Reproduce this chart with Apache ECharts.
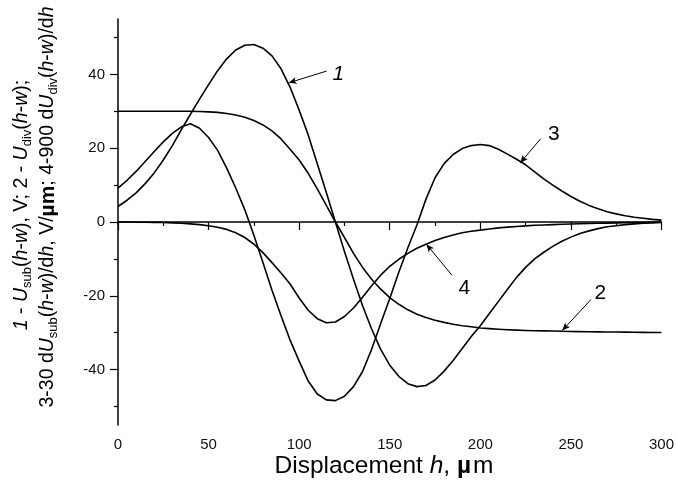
<!DOCTYPE html>
<html>
<head>
<meta charset="utf-8">
<script src="https://cdn.jsdelivr.net/npm/echarts@6/dist/echarts.min.js"></script>
<style>
html, body { margin: 0; padding: 0; background: #fff; }
#Result { width: 677px; height: 494px; }
</style>
</head>
<body>
<div id="Result"></div>
<script>
// displacement h, um (shared by all curves)
var hGrid = [0, 5, 10, 15, 20, 25, 30, 35, 40, 45, 50, 55, 60, 65, 70, 75, 80, 85, 90, 95,
    100, 105, 110, 115, 120, 125, 130, 135, 140, 145, 150, 155, 160, 165, 170, 175, 180, 185, 190, 195,
    200, 205, 210, 215, 220, 225, 230, 235, 240, 245, 250, 255, 260, 265, 270, 275, 280, 285, 290, 295, 300];
// curve 1 - Usub(h-w)
var uSub = [4.2, 5.9, 7.9, 10.4, 13.3, 16.8, 20.7, 25, 29.2, 33.3, 37.2, 41, 44.2, 46.6, 47.9, 48.1, 47.1, 45, 41.5, 36.5,
    30.3, 23.6, 15.8, 8, 0, -8, -15.5, -22.7, -29, -34.5, -38.8, -41.8, -43.8, -44.6, -44.3, -42.8, -40.4, -37.5, -34.3, -31,
    -28.1, -24.8, -21.5, -18.2, -15, -12.3, -10, -8.2, -6.6, -5.2, -4.1, -3.1, -2.4, -1.8, -1.3, -1, -0.7, -0.5, -0.35, -0.25, -0.15];
// curve 2 - Udiv(h-w)
var uDiv = [30, 30, 30, 30, 30, 30, 30, 30, 30, 29.95, 29.85, 29.7, 29.4, 29, 28.4, 27.5, 26.3, 24.7, 22.5, 19.7,
    16.8, 13.2, 9, 4.5, 0, -4.2, -8.5, -12.3, -15.5, -18.2, -20.5, -22.3, -23.8, -25, -25.9, -26.6, -27.2, -27.7, -28.1, -28.4,
    -28.7, -28.9, -29.05, -29.2, -29.3, -29.4, -29.45, -29.5, -29.55, -29.6, -29.65, -29.7, -29.72, -29.76, -29.8, -29.82, -29.85, -29.87, -29.9, -29.92, -29.95];
// curve 3 - 30 dUsub/dh
var dSub = [9.2, 11.3, 13.7, 16.4, 19.1, 21.7, 24, 25.8, 26.6, 25.4, 22.9, 19.4, 14.6, 9.2, 3.3, -3.6, -11, -18.5, -25.4, -32,
    -37.7, -43.1, -46.6, -48.2, -48.4, -47.2, -44.6, -40.5, -34.5, -27.5, -20.7, -13.6, -7, -0.8, 6.2, 12, 15.8, 18.3, 19.9, 20.7,
    21, 20.7, 19.7, 18.4, 17, 15.5, 13.6, 11.7, 10, 8.4, 6.9, 5.6, 4.5, 3.6, 2.8, 2.2, 1.7, 1.3, 1, 0.7, 0.5];
// curve 4 - 900 dUdiv/dh
var dDiv = [0, 0, -0.05, -0.05, -0.1, -0.15, -0.25, -0.35, -0.5, -0.7, -1, -1.4, -2, -2.9, -4.2, -6, -8.3, -11, -13.8, -16.8,
    -20.6, -23.9, -26.2, -27.3, -27.1, -25.6, -23.3, -20.4, -17.3, -14.4, -12, -10.1, -8.5, -7.1, -6, -5, -4.2, -3.5, -2.9, -2.5,
    -2.2, -1.9, -1.6, -1.4, -1.2, -1.05, -0.9, -0.8, -0.7, -0.62, -0.55, -0.47, -0.4, -0.35, -0.3, -0.25, -0.2, -0.16, -0.12, -0.08, -0.05];

var yMajor = [-40, -20, 0, 20, 40];
var yMinor = [-50, -30, -10, 10, 30, 50];

// curve numbers: text position, arrow start, arrow tip (data units)
var tagText = ['1', '2', '3', '4'];
var tagPos = [[121.6, 40.0], [266.2, -19.4], [240.6, 23.7], [191.2, -18.0]];
var tagFrom = [[115.2, 40.9], [261.1, -21.0], [233.2, 22.5], [184.3, -14.4]];
var tagTo = [[94.2, 37.7], [245.2, -29.4], [222.0, 16.0], [170.2, -6.0]];

function pairs(xs, ys) {
    var out = [];
    for (var i = 0; i < xs.length; i++) out.push([xs[i], ys[i]]);
    return out;
}

var FONT = '"Liberation Sans", Arial, sans-serif';
var dom = document.getElementById("Result");
var myChart = echarts.init(dom, null, { renderer: 'canvas' });

var arrows = [[{ yAxis: 0, symbol: 'none' }, { yAxis: 0, symbol: 'none' }]];
for (var k = 0; k < tagFrom.length; k++) {
    arrows.push([{ coord: tagFrom[k], symbol: 'none' }, { coord: tagTo[k], symbol: 'arrow', symbolSize: [5, 8] }]);
}

function curve(name, d) {
    return {
        name: name,
        type: 'line',
        data: d,
        smooth: false,
        showSymbol: false,
        lineStyle: { color: '#000', width: 1.6, join: 'round' },
        silent: true,
        animation: false
    };
}

var s1 = curve('1', pairs(hGrid, uSub));
s1.markLine = {
    silent: true,
    animation: false,
    label: { show: false },
    lineStyle: { color: '#000', width: 1, type: 'solid' },
    itemStyle: { color: '#000' },
    data: arrows
};

option = {
    backgroundColor: '#fff',
    animation: false,
    grid: { left: 118, right: 12, top: 19, bottom: 69 },
    xAxis: {
        type: 'value',
        min: 0,
        max: 300,
        interval: 50,
        axisLine: { lineStyle: { color: '#000', width: 1.5 } },
        axisTick: { length: 8, lineStyle: { color: '#000', width: 1.2 } },
        minorTick: { show: true, splitNumber: 2, length: 4, lineStyle: { color: '#000', width: 1.2 } },
        axisLabel: { color: '#111', fontSize: 15, fontFamily: FONT, margin: 12 },
        splitLine: { show: false }
    },
    yAxis: [{
        type: 'value',
        min: -55,
        max: 55,
        axisLine: { show: true, lineStyle: { color: '#000', width: 1.5 } },
        axisTick: { show: true, customValues: yMajor, length: 8, lineStyle: { color: '#000', width: 1.2 } },
        axisLabel: { customValues: yMajor, color: '#111', fontSize: 15, fontFamily: FONT, margin: 13 },
        splitLine: { show: false }
    }, {
        type: 'value',
        min: -55,
        max: 55,
        position: 'left',
        axisLine: { show: false },
        axisTick: { show: true, customValues: yMinor, length: 4, lineStyle: { color: '#000', width: 1.2 } },
        axisLabel: { show: false },
        splitLine: { show: false }
    }],
    series: [
        s1,
        curve('2', pairs(hGrid, uDiv)),
        curve('3', pairs(hGrid, dSub)),
        curve('4', pairs(hGrid, dDiv))
    ]
};
myChart.setOption(option, true);

// axis titles and curve numbers
var rich = {
    i: { fontStyle: 'italic', fontSize: 19.5, fontFamily: FONT, color: '#000' },
    s: { fontSize: 13, fontFamily: FONT, color: '#000', verticalAlign: 'bottom', padding: [11, 0, 0, 0] },
    m: { fontSize: 21, fontWeight: 'bold', fontFamily: FONT, color: '#000' }
};
var graphics = [{
    type: 'text',
    x: 22, y: 205, rotation: Math.PI / 2,
    style: {
        text: '{i|1} - {i|U}{s|sub}({i|h}-{i|w}), V; 2 - {i|U}{s|div}({i|h}-{i|w});',
        rich: rich, fontSize: 19.5, fontFamily: FONT, fill: '#000', align: 'center', verticalAlign: 'middle'
    }
}, {
    type: 'text',
    x: 48, y: 207, rotation: Math.PI / 2,
    style: {
        text: '3-30 d{i|U}{s|sub}({i|h}-{i|w})/d{i|h}, V/{m|µm}; 4-900 d{i|U}{s|div}({i|h}-{i|w})/d{i|h}',
        rich: rich, fontSize: 19.5, fontFamily: FONT, fill: '#000', align: 'center', verticalAlign: 'middle'
    }
}, {
    type: 'text',
    x: 384, y: 466,
    style: {
        text: 'Displacement {hi|h}, {mu|µ}m',
        rich: {
            hi: { fontStyle: 'italic', fontSize: 24.5, fontFamily: FONT, color: '#000' },
            mu: { fontSize: 24.5, fontWeight: 'bold', fontFamily: FONT, color: '#000', padding: [0, 2, 0, 0] }
        },
        fontSize: 24.5, fontFamily: FONT, fill: '#000', align: 'center', verticalAlign: 'middle'
    }
}];
for (var t = 0; t < tagText.length; t++) {
    var p = myChart.convertToPixel({ gridIndex: 0 }, tagPos[t]);
    graphics.push({
        type: 'text',
        x: p[0], y: p[1],
        style: {
            text: tagText[t],
            fontSize: 21, fontFamily: FONT, fill: '#000',
            fontStyle: t === 0 ? 'italic' : 'normal',
            align: 'center', verticalAlign: 'middle'
        }
    });
}
myChart.setOption({ graphic: graphics });
</script>
</body>
</html>
